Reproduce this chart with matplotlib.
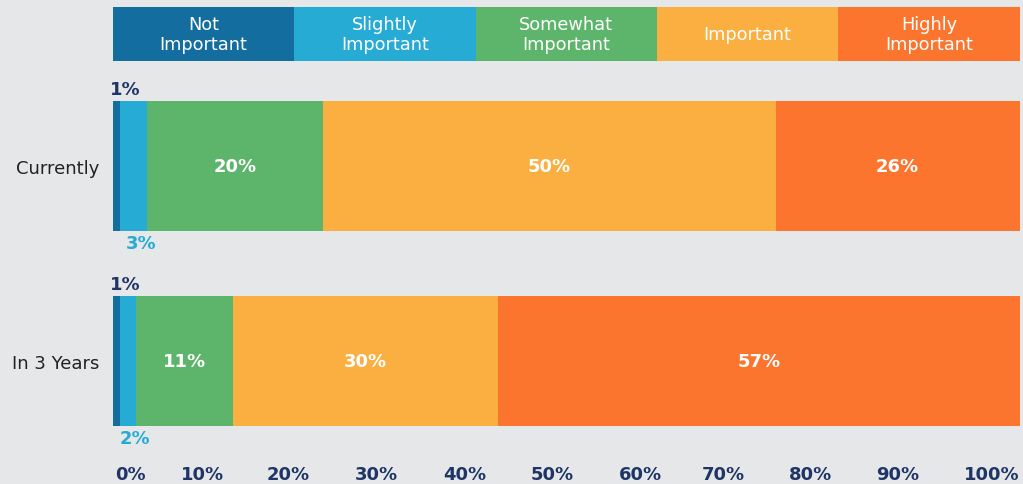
import matplotlib
matplotlib.use("Agg")
import matplotlib.pyplot as plt

# ---- data ----
categories = ["Currently", "In 3 Years"]
levels = ["Not\nImportant", "Slightly\nImportant", "Somewhat\nImportant", "Important", "Highly\nImportant"]
currently = [0.8, 3.0, 19.4, 49.9, 26.9]
in_3_years = [0.8, 1.7, 10.7, 29.3, 57.5]
currently_labels = ["1%", "3%", "20%", "50%", "26%"]
in_3_years_labels = ["1%", "2%", "11%", "30%", "57%"]
tick_labels = ["0%", "10%", "20%", "30%", "40%", "50%", "60%", "70%", "80%", "90%", "100%"]
tick_positions = [1.9, 9.9, 19.3, 29.0, 38.8, 48.5, 58.2, 67.3, 76.9, 86.6, 96.9]

colors = ["#136d9f", "#25abd4", "#5db56b", "#fbaf40", "#fb752f"]
BG = "#e6e7e9"
NAVY = "#1f3566"

W, H = 1023, 485
fig = plt.figure(figsize=(W / 100, H / 100), dpi=100, facecolor=BG)

def px_axes(x0, y0, x1, y1):
    return fig.add_axes([x0 / W, 1 - y1 / H, (x1 - x0) / W, (y1 - y0) / H])

FONT = ["DejaVu Sans"]

# ---- header legend ----
hax = px_axes(113, 8, 1019.5, 62)
hax.set_facecolor(BG)
n = len(levels)
hax.barh([0] * n, [1] * n, left=list(range(n)), height=1, color=colors, edgecolor="none")
for i, lab in enumerate(levels):
    hax.text(i + 0.5, 0, lab, ha="center", va="center", color="white",
             fontsize=12.8, family=FONT, linespacing=1.15)
hax.set_xlim(0, n)
hax.set_ylim(-0.5, 0.5)
hax.axis("off")

# ---- main bars ----
ax = px_axes(113, 69.2, 1019.5, 459.2)
ax.set_facecolor(BG)
series = [currently, in_3_years]
labels = [currently_labels, in_3_years_labels]
bh = 0.667
for yi, (vals, labs) in enumerate(zip(series, labels)):
    left = 0
    for j, (v, lab) in enumerate(zip(vals, labs)):
        ax.barh(yi, v, left=left, height=bh, color=colors[j], edgecolor="none")
        if j >= 2:
            ax.text(left + v / 2, yi, lab, ha="center", va="center", color="white",
                    fontsize=13, fontweight="bold", family=FONT)
        elif j == 0:
            ax.text(left + 1.3, yi - bh / 2 - 0.015, lab, ha="center", va="bottom",
                    color=NAVY, fontsize=13, fontweight="bold", family=FONT)
        else:
            ax.text(left + v / 2 + 0.8, yi + bh / 2 + 0.015, lab, ha="center", va="top",
                    color=colors[1], fontsize=13, fontweight="bold", family=FONT)
        left += v

ax.set_xlim(0, sum(currently))
ax.set_ylim(1.5, -0.5)
ax.set_yticks(range(len(categories)))
ax.set_yticklabels(categories, fontsize=13, color="#222222", family=FONT)
ax.set_xticks(tick_positions)
ax.set_xticklabels(tick_labels, fontsize=13, fontweight="bold", color=NAVY, family=FONT)
ax.tick_params(axis="both", length=0)
ax.tick_params(axis="x", pad=5)
ax.tick_params(axis="y", pad=10)
for s in ax.spines.values():
    s.set_visible(False)

fig.savefig("out.png", dpi=100, facecolor=BG)
